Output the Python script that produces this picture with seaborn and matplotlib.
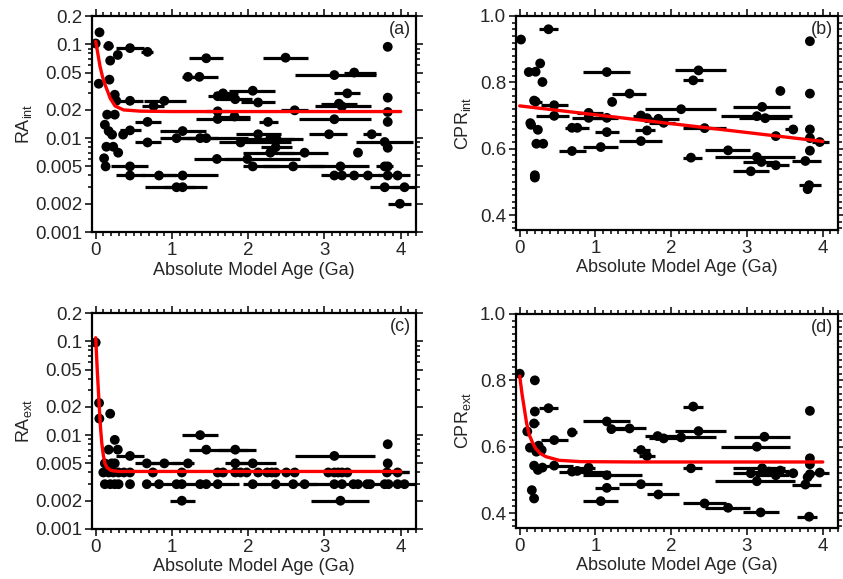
import numpy as np
import pandas as pd
import matplotlib
matplotlib.use("Agg")
import matplotlib.pyplot as plt
import matplotlib.ticker as mticker
import seaborn as sns

# ---------------- data: panel (a) RA_int ----------------
a_age = [0.00, 0.05, 0.04, 0.17, 0.19, 0.29, 0.18, 0.45, 0.68, 0.25, 0.27, 0.45, 0.90, 0.76,
         0.15, 0.25, 0.68, 0.12, 0.17, 0.215, 0.45, 0.36, 0.14, 0.23, 0.295, 0.68, 0.11, 0.13,
         0.45, 0.45, 0.83, 1.14, 1.06, 1.14, 1.14, 1.06, 1.37, 1.45, 2.29, 2.37,
         1.45, 1.21, 1.36, 1.67, 1.60, 1.83, 2.06, 2.13, 1.60, 1.60, 1.82, 2.13, 1.90, 2.36,
         2.29, 2.74, 1.59, 1.99, 2.06, 2.59, 3.21,
         2.49, 3.83, 3.13, 3.39, 3.30, 3.83, 3.19, 3.23, 3.83, 2.61, 3.13, 3.83, 2.26, 3.06,
         3.62, 3.79, 3.83, 3.44, 3.79, 3.83, 3.13, 3.23, 3.39, 3.57, 3.83, 3.96, 3.79, 4.05, 3.99]
a_val = [0.102, 0.134, 0.038, 0.096, 0.067, 0.077, 0.042, 0.091, 0.083, 0.029, 0.025, 0.025, 0.025, 0.022,
         0.0178, 0.0178, 0.0149, 0.0139, 0.0119, 0.0109, 0.0121, 0.0109, 0.0081, 0.0081, 0.0070, 0.0090, 0.0061, 0.0050,
         0.0050, 0.0040, 0.0040, 0.0040, 0.0030, 0.0030, 0.0119, 0.0100, 0.0100, 0.0100, 0.0099, 0.0099,
         0.071, 0.045, 0.045, 0.030, 0.028, 0.026, 0.032, 0.024, 0.0193, 0.016, 0.017, 0.011, 0.009, 0.008,
         0.007, 0.007, 0.006, 0.006, 0.005, 0.005, 0.005,
         0.072, 0.094, 0.047, 0.050, 0.030, 0.027, 0.0233, 0.0218, 0.019, 0.0198, 0.0159, 0.0149, 0.0149, 0.011,
         0.011, 0.0091, 0.0079, 0.0070, 0.005, 0.005, 0.004, 0.004, 0.004, 0.004, 0.004, 0.004, 0.003, 0.003, 0.002]
a_lo = [0.00, 0.05, 0.04, 0.10, 0.19, 0.29, 0.18, 0.27, 0.60, 0.25, 0.27, 0.30, 0.64, 0.61,
        0.15, 0.25, 0.51, 0.12, 0.17, 0.215, 0.32, 0.36, 0.14, 0.23, 0.295, 0.51, 0.11, 0.13,
        0.20, 0.27, 0.60, 0.80, 0.65, 0.90, 0.84, 0.84, 1.10, 1.20, 1.90, 2.10,
        1.22, 1.13, 1.20, 1.55, 1.47, 1.62, 1.75, 1.90, 1.45, 1.31, 1.62, 1.84, 1.62, 2.17,
        1.93, 2.40, 1.29, 1.70, 1.93, 2.20, 2.80,
        2.19, 3.83, 2.61, 3.25, 3.12, 3.83, 2.95, 2.87, 3.83, 2.43, 2.66, 3.83, 2.14, 2.80,
        3.50, 3.42, 3.83, 3.44, 3.68, 3.83, 2.95, 3.23, 3.39, 3.30, 3.83, 3.70, 3.60, 3.90, 3.84]
a_hi = [0.00, 0.05, 0.04, 0.23, 0.19, 0.29, 0.18, 0.64, 0.75, 0.25, 0.27, 0.62, 1.18, 0.89,
        0.15, 0.25, 0.86, 0.12, 0.17, 0.215, 0.59, 0.36, 0.14, 0.23, 0.295, 0.85, 0.11, 0.13,
        0.69, 0.65, 1.05, 1.61, 1.30, 1.46, 1.45, 1.30, 1.60, 2.00, 2.60, 2.72,
        1.67, 1.40, 1.61, 1.87, 1.82, 2.05, 2.35, 2.35, 1.75, 2.03, 2.03, 2.43, 2.56, 2.57,
        2.60, 3.05, 1.90, 2.68, 2.40, 3.00, 3.59,
        2.79, 3.83, 3.67, 3.67, 3.47, 3.83, 3.43, 3.61, 3.83, 2.79, 3.61, 3.83, 2.39, 3.30,
        3.74, 4.16, 3.83, 3.44, 3.90, 3.83, 3.40, 3.23, 3.39, 3.75, 3.83, 4.12, 4.00, 4.20, 4.14]
a_fit_x = [0.00, 0.03, 0.057, 0.09, 0.123, 0.16, 0.19, 0.255, 0.365, 0.58, 1.0, 2.0, 3.0, 4.0]
a_fit_y = [0.107, 0.078, 0.058, 0.045, 0.037, 0.031, 0.0266, 0.022, 0.020, 0.0194, 0.0192, 0.0192, 0.0192, 0.0192]

# ---------------- data: panel (b) CPR_int ----------------
b_age = [0.017, 0.38, 0.12, 0.21, 0.27, 0.30, 0.19, 0.21, 0.455, 0.455, 0.14, 0.15, 0.24, 0.22, 0.31,
         0.20, 0.20, 0.69, 0.76, 0.69, 0.91, 0.91, 1.07, 1.15, 1.15, 1.15, 1.22, 1.45, 1.60, 1.60,
         1.68, 1.68, 1.83, 1.90, 2.13, 2.29, 2.36, 2.26, 2.44, 2.75, 3.05, 3.13, 3.19, 3.38, 3.20,
         3.13, 3.24, 3.38, 3.44, 3.61, 3.83, 3.83, 3.83, 3.83, 3.96, 3.83, 3.77, 3.82, 3.80]
b_val = [0.929, 0.960, 0.831, 0.832, 0.857, 0.801, 0.745, 0.742, 0.731, 0.699, 0.677, 0.672, 0.657, 0.615, 0.615,
         0.520, 0.513, 0.663, 0.663, 0.593, 0.708, 0.693, 0.605, 0.831, 0.693, 0.650, 0.741, 0.766, 0.623, 0.700,
         0.692, 0.655, 0.690, 0.678, 0.719, 0.806, 0.836, 0.573, 0.662, 0.595, 0.532, 0.575, 0.560, 0.550, 0.726,
         0.698, 0.692, 0.638, 0.774, 0.658, 0.924, 0.766, 0.658, 0.632, 0.620, 0.594, 0.563, 0.490, 0.478]
b_lo = [0.017, 0.25, 0.12, 0.21, 0.27, 0.30, 0.19, 0.14, 0.28, 0.22, 0.14, 0.15, 0.24, 0.22, 0.31,
        0.20, 0.20, 0.60, 0.65, 0.52, 0.75, 0.69, 0.84, 0.84, 0.95, 0.99, 1.22, 1.22, 1.31, 1.50,
        1.55, 1.52, 1.63, 1.70, 1.66, 2.15, 2.05, 2.15, 2.15, 2.44, 2.81, 2.58, 2.95, 3.25, 2.81,
        2.66, 2.90, 3.38, 3.44, 3.50, 3.83, 3.83, 3.83, 3.83, 3.86, 3.83, 3.60, 3.68, 3.80]
b_hi = [0.017, 0.51, 0.12, 0.21, 0.27, 0.30, 0.19, 0.29, 0.64, 0.65, 0.14, 0.15, 0.24, 0.22, 0.31,
        0.20, 0.20, 0.85, 0.91, 0.87, 1.10, 1.19, 1.30, 1.45, 1.30, 1.31, 1.22, 1.67, 1.88, 1.70,
        1.75, 1.78, 2.10, 2.05, 2.59, 2.42, 2.72, 2.40, 2.72, 3.04, 3.29, 3.63, 3.40, 3.55, 3.57,
        3.59, 3.55, 3.38, 3.44, 3.66, 3.83, 3.83, 3.83, 3.83, 4.08, 3.83, 3.97, 3.97, 3.80]
b_fit_x = [0.0, 4.0]
b_fit_y = [0.729, 0.622]

# ---------------- data: panel (c) RA_ext ----------------
c_age = [0.00, 0.044, 0.048, 0.19, 0.25, 0.17, 0.29, 0.12, 0.21, 0.25, 0.45,
         0.10, 0.17, 0.23, 0.30, 0.37, 0.45, 0.75, 1.13, 1.60, 1.67, 1.83, 1.90, 1.98, 2.13, 2.25,
         2.31, 2.36, 2.50, 2.61, 3.05, 3.13, 3.18, 3.23, 3.30, 3.82, 3.96,
         0.12, 0.19, 0.25, 0.30, 0.45, 0.67, 0.83, 1.06, 1.13, 1.37, 1.45, 1.60, 2.06, 2.36, 2.59,
         2.74, 3.13, 3.23, 3.38, 3.44, 3.56, 3.60, 3.79, 3.84, 3.96, 4.05,
         0.67, 0.90, 1.21, 1.83, 2.06, 3.83, 1.45, 1.83, 1.37, 3.13, 3.83, 1.13, 3.21]
c_val = [0.097, 0.022, 0.015, 0.0169, 0.0089, 0.007, 0.007, 0.005, 0.005, 0.005, 0.006,
         0.004, 0.004, 0.004, 0.004, 0.004, 0.004, 0.004, 0.004, 0.004, 0.004, 0.004, 0.004, 0.004, 0.004, 0.004,
         0.004, 0.004, 0.004, 0.004, 0.004, 0.004, 0.004, 0.004, 0.004, 0.004, 0.004,
         0.003, 0.003, 0.003, 0.003, 0.003, 0.003, 0.003, 0.003, 0.003, 0.003, 0.003, 0.003, 0.003, 0.003, 0.003,
         0.003, 0.003, 0.003, 0.003, 0.003, 0.003, 0.003, 0.003, 0.003, 0.003, 0.003,
         0.005, 0.005, 0.005, 0.005, 0.005, 0.005, 0.007, 0.007, 0.010, 0.006, 0.008, 0.002, 0.002]
c_lo = [0.00, 0.044, 0.048, 0.19, 0.25, 0.17, 0.29, 0.12, 0.21, 0.25, 0.27,
        0.10, 0.17, 0.23, 0.30, 0.37, 0.45, 0.75, 1.13, 1.60, 1.67, 1.83, 1.90, 1.98, 2.13, 2.25,
        2.31, 2.36, 2.50, 2.61, 3.05, 3.13, 3.18, 3.23, 3.30, 3.81, 3.81,
        0.12, 0.19, 0.25, 0.30, 0.45, 0.67, 0.67, 1.06, 1.13, 1.37, 1.00, 1.60, 2.06, 1.93, 2.59,
        2.74, 2.60, 3.23, 3.38, 3.44, 3.56, 3.60, 3.40, 3.84, 3.96, 4.05,
        0.51, 0.70, 1.00, 1.70, 1.85, 3.83, 1.22, 1.60, 1.13, 2.61, 3.83, 0.98, 2.83]
c_hi = [0.00, 0.044, 0.048, 0.19, 0.25, 0.17, 0.29, 0.12, 0.21, 0.25, 0.64,
        0.10, 0.17, 0.23, 0.30, 0.37, 0.45, 0.75, 1.13, 1.60, 1.67, 1.83, 1.90, 1.98, 2.13, 2.25,
        2.31, 2.36, 2.50, 2.61, 3.05, 3.13, 3.18, 3.23, 3.30, 4.11, 4.11,
        0.12, 0.19, 0.25, 0.30, 0.45, 0.67, 1.10, 1.06, 1.13, 1.37, 1.88, 1.60, 2.06, 2.90, 2.59,
        2.74, 3.60, 3.23, 3.38, 3.44, 3.56, 3.60, 4.20, 3.84, 3.96, 4.05,
        0.85, 1.10, 1.29, 2.00, 2.36, 3.83, 2.10, 2.00, 1.61, 3.66, 3.83, 1.30, 3.59]
c_fit_x = [0.00, 0.02, 0.035, 0.05, 0.065, 0.08, 0.10, 0.12, 0.15, 0.20, 0.30, 1.0, 2.0, 3.0, 4.0]
c_fit_y = [0.109, 0.050, 0.030, 0.018, 0.0115, 0.0082, 0.0061, 0.0050, 0.0045, 0.0042, 0.0041, 0.0041, 0.0041, 0.0041, 0.0041]

# ---------------- data: panel (d) CPR_ext ----------------
d_age = [0.00, 0.20, 0.20, 0.38, 0.19, 0.10, 0.455, 0.69, 0.135, 0.25, 0.29, 0.22, 0.19, 0.24, 0.30,
         0.455, 0.69, 0.76, 0.91, 1.15, 1.15, 1.21, 1.45, 1.15, 1.07, 1.60, 1.60, 1.68, 1.82, 1.90,
         1.83, 0.16, 0.19, 2.29, 2.13, 2.36, 2.26, 2.44, 2.75, 3.18, 3.23, 3.13, 3.20, 3.05, 3.29,
         3.38, 3.44, 3.61, 3.13, 3.83, 3.83, 3.83, 3.83, 3.80, 3.77, 3.96, 3.82]
d_val = [0.820, 0.800, 0.706, 0.716, 0.670, 0.646, 0.620, 0.643, 0.597, 0.603, 0.590, 0.585, 0.543, 0.530, 0.537,
         0.543, 0.525, 0.527, 0.537, 0.514, 0.676, 0.653, 0.655, 0.476, 0.436, 0.487, 0.590, 0.572, 0.632, 0.625,
         0.456, 0.469, 0.444, 0.721, 0.628, 0.647, 0.535, 0.429, 0.416, 0.402, 0.630, 0.600, 0.535, 0.520, 0.525,
         0.514, 0.528, 0.520, 0.496, 0.708, 0.565, 0.547, 0.517, 0.508, 0.486, 0.522, 0.389]
d_lo = [0.00, 0.20, 0.20, 0.25, 0.14, 0.10, 0.28, 0.64, 0.135, 0.25, 0.29, 0.22, 0.19, 0.24, 0.30,
        0.22, 0.52, 0.65, 0.75, 0.84, 0.84, 1.17, 1.25, 1.00, 0.84, 1.31, 1.50, 1.57, 1.65, 1.70,
        1.68, 0.16, 0.19, 2.15, 1.75, 2.05, 2.15, 2.15, 2.44, 2.95, 2.83, 2.66, 2.82, 2.81, 3.00,
        3.10, 3.20, 3.50, 2.58, 3.83, 3.83, 3.83, 3.83, 3.80, 3.60, 3.86, 3.66]
d_hi = [0.00, 0.20, 0.20, 0.51, 0.25, 0.10, 0.64, 0.76, 0.135, 0.25, 0.29, 0.22, 0.19, 0.24, 0.30,
        0.70, 1.19, 0.91, 1.00, 1.61, 1.45, 1.40, 1.67, 1.31, 1.30, 1.88, 1.72, 1.78, 2.10, 2.13,
        2.10, 0.16, 0.19, 2.42, 2.59, 2.72, 2.40, 2.72, 3.04, 3.42, 3.57, 3.57, 3.50, 3.30, 3.45,
        3.55, 3.55, 3.66, 3.63, 3.83, 3.83, 3.83, 3.83, 3.80, 3.97, 4.08, 3.93]
d_fit_x = [0.00, 0.03, 0.06, 0.09, 0.127, 0.17, 0.21, 0.27, 0.345, 0.52, 0.8, 1.5, 2.5, 4.0]
d_fit_y = [0.813, 0.760, 0.716, 0.672, 0.635, 0.612, 0.595, 0.580, 0.570, 0.559, 0.555, 0.554, 0.554, 0.554]

sns.set_style("ticks")
plt.rcParams["font.family"] = ["Liberation Sans", "DejaVu Sans"]
plt.rcParams["mathtext.fontset"] = "custom"
plt.rcParams["mathtext.rm"] = "Liberation Sans"
plt.rcParams["mathtext.it"] = "Liberation Sans:italic"

fig = plt.figure(figsize=(8.43, 5.79), dpi=100)
positions = {
    "a": [0.109, 0.5993, 0.3844, 0.373],
    "b": [0.612, 0.6028, 0.382, 0.3696],
    "c": [0.109, 0.0864, 0.3844, 0.373],
    "d": [0.612, 0.0881, 0.382, 0.3696],
}

panels = [
    ("a", a_age, a_val, a_lo, a_hi, a_fit_x, a_fit_y, True, r"RA$_{\mathrm{int}}$"),
    ("b", b_age, b_val, b_lo, b_hi, b_fit_x, b_fit_y, False, r"CPR$_{\mathrm{int}}$"),
    ("c", c_age, c_val, c_lo, c_hi, c_fit_x, c_fit_y, True, r"RA$_{\mathrm{ext}}$"),
    ("d", d_age, d_val, d_lo, d_hi, d_fit_x, d_fit_y, False, r"CPR$_{\mathrm{ext}}$"),
]

TFS = 13.5
LFS = 13
for key, age, val, lo, hi, fx, fy, islog, ylab in panels:
    ax = fig.add_axes(positions[key])
    df = pd.DataFrame({"age": age, "val": val, "lo": lo, "hi": hi})
    fit = pd.DataFrame({"x": fx, "y": fy})
    if islog:
        ax.set_yscale("log")
    ax.hlines(df["val"], df["lo"], df["hi"], color="black", lw=2.3, zorder=2)
    sns.scatterplot(data=df, x="age", y="val", ax=ax, color="black", s=50,
                    edgecolor="none", linewidth=0, zorder=3, legend=False)
    sns.lineplot(data=fit, x="x", y="y", ax=ax, color="#ff0000", lw=2.4,
                 zorder=4, legend=False, sort=False, estimator=None)
    ax.set_xlim(-0.05, 4.2)
    ax.xaxis.set_major_locator(mticker.MultipleLocator(1))
    ax.xaxis.set_minor_locator(mticker.MultipleLocator(0.1))
    if islog:
        ax.set_ylim(0.001, 0.2)
        yt = [0.001, 0.002, 0.005, 0.01, 0.02, 0.05, 0.1, 0.2]
        ax.set_yticks(yt)
        ax.set_yticklabels(["0.001", "0.002", "0.005", "0.01", "0.02", "0.05", "0.1", "0.2"])
        ax.yaxis.set_minor_locator(mticker.LogLocator(base=10, subs=np.arange(1, 10), numticks=20))
        ax.yaxis.set_minor_formatter(mticker.NullFormatter())
        ax.set_ylabel(ylab, fontsize=LFS, labelpad=1)
    else:
        ax.set_ylim(0.355, 1.0)
        ax.set_yticks([0.4, 0.6, 0.8, 1.0])
        ax.set_yticklabels(["0.4", "0.6", "0.8", "1.0"])
        ax.yaxis.set_minor_locator(mticker.MultipleLocator(0.02))
        ax.set_ylabel(ylab, fontsize=LFS, labelpad=5)
    ax.set_xlabel("Absolute Model Age (Ga)", fontsize=LFS, labelpad=2)
    ax.tick_params(which="both", direction="out", top=True, right=True,
                   labeltop=False, labelright=False, labelsize=TFS, width=1.1, color="black")
    ax.tick_params(which="major", length=5, pad=2)
    ax.tick_params(which="minor", length=3)
    for sp in ax.spines.values():
        sp.set_linewidth(1.6)
        sp.set_color("black")
        sp.set_visible(True)
    ax.text(0.985, 0.975, f"({key})", transform=ax.transAxes, ha="right", va="top",
            fontsize=13)

fig.savefig("out.png", dpi=100)
